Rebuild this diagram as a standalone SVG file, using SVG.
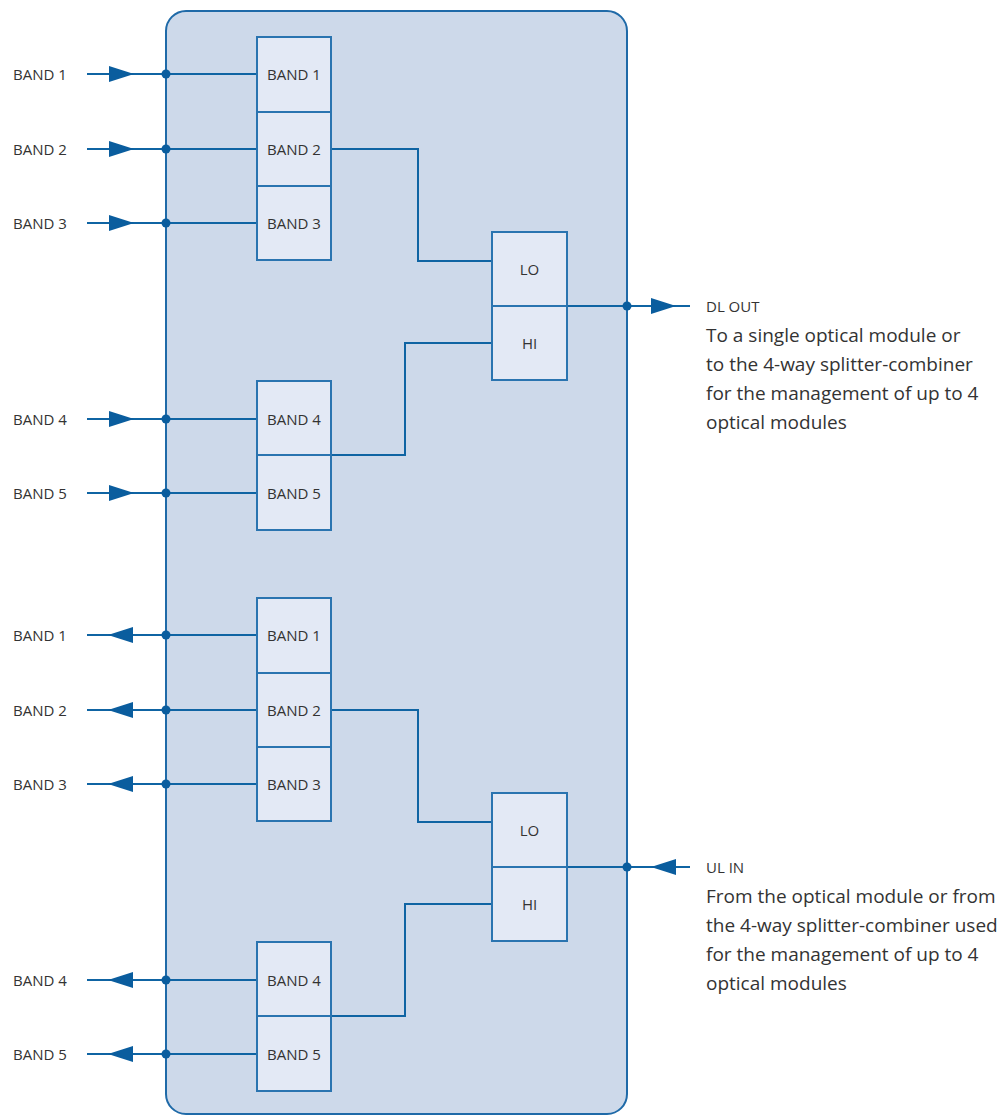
<svg xmlns="http://www.w3.org/2000/svg" xmlns:xlink="http://www.w3.org/1999/xlink" width="1005" height="1115" viewBox="0 0 1005 1115">
<style>
.wire{fill:none;stroke:#0f64a3;stroke-width:2}
.box{fill:#e3e9f5;stroke:#2a74b0;stroke-width:2}
.dot{fill:#0a5d9e}
.arr{fill:#0a5d9e}
.lbl{font-family:"Open Sans","Noto Sans",sans-serif;font-size:15px;fill:#333}
.in{font-family:"Open Sans","Noto Sans",sans-serif;font-size:15px;fill:#333;text-anchor:middle}
.desc{font-family:"Open Sans","Noto Sans",sans-serif;font-size:19px;fill:#333}
</style>
<defs>
<polygon id="ar" points="0,-8 25,0 0,8" class="arr"/>
<polygon id="al" points="25,-8 0,0 25,8" class="arr"/>
</defs>
<rect id="panel" x="166" y="11" width="461" height="1103" rx="20" ry="20" fill="#cdd9ea" stroke="#1f6aa8" stroke-width="2"/>
<g id="connectors">
<path class="wire" d="M87 74H257M87 149H257M87 223H257M87 419H257M87 493H257"/>
<path class="wire" d="M331 149H418V261H492M331 455H405V343H492M567 306H690"/>
<use xlink:href="#ar" x="109" y="74"/><use xlink:href="#ar" x="109" y="149"/><use xlink:href="#ar" x="109" y="223"/><use xlink:href="#ar" x="109" y="419"/><use xlink:href="#ar" x="109" y="493"/>
<use xlink:href="#ar" x="651" y="306"/>
<circle class="dot" cx="166" cy="74" r="4.5"/><circle class="dot" cx="166" cy="149" r="4.5"/><circle class="dot" cx="166" cy="223" r="4.5"/><circle class="dot" cx="166" cy="419" r="4.5"/><circle class="dot" cx="166" cy="493" r="4.5"/>
<circle class="dot" cx="627" cy="306" r="4.5"/>
<path class="wire" d="M87 635H257M87 710H257M87 784H257M87 980H257M87 1054H257"/>
<path class="wire" d="M331 710H418V822H492M331 1016H405V904H492M567 867H690"/>
<use xlink:href="#al" x="108" y="635"/><use xlink:href="#al" x="108" y="710"/><use xlink:href="#al" x="108" y="784"/><use xlink:href="#al" x="108" y="980"/><use xlink:href="#al" x="108" y="1054"/>
<use xlink:href="#al" x="651" y="867"/>
<circle class="dot" cx="166" cy="635" r="4.5"/><circle class="dot" cx="166" cy="710" r="4.5"/><circle class="dot" cx="166" cy="784" r="4.5"/><circle class="dot" cx="166" cy="980" r="4.5"/><circle class="dot" cx="166" cy="1054" r="4.5"/>
<circle class="dot" cx="627" cy="867" r="4.5"/>
</g>
<g id="dl-filters">
<g id="dl-band1"><rect class="box" x="257" y="37" width="74" height="75"/><text class="in" x="294" y="79.5">BAND 1</text></g>
<g id="dl-band2"><rect class="box" x="257" y="112" width="74" height="74"/><text class="in" x="294" y="154.5">BAND 2</text></g>
<g id="dl-band3"><rect class="box" x="257" y="186" width="74" height="74"/><text class="in" x="294" y="228.5">BAND 3</text></g>
<g id="dl-band4"><rect class="box" x="257" y="381" width="74" height="74"/><text class="in" x="294" y="424.5">BAND 4</text></g>
<g id="dl-band5"><rect class="box" x="257" y="455" width="74" height="75"/><text class="in" x="294" y="498.5">BAND 5</text></g>
<g id="dl-lo"><rect class="box" x="492" y="232" width="75" height="74"/><text class="in" x="529.5" y="274.5">LO</text></g>
<g id="dl-hi"><rect class="box" x="492" y="306" width="75" height="74"/><text class="in" x="529.5" y="348.5">HI</text></g>
</g>
<g id="ul-filters">
<g id="ul-band1"><rect class="box" x="257" y="598" width="74" height="75"/><text class="in" x="294" y="640.5">BAND 1</text></g>
<g id="ul-band2"><rect class="box" x="257" y="673" width="74" height="74"/><text class="in" x="294" y="715.5">BAND 2</text></g>
<g id="ul-band3"><rect class="box" x="257" y="747" width="74" height="74"/><text class="in" x="294" y="789.5">BAND 3</text></g>
<g id="ul-band4"><rect class="box" x="257" y="942" width="74" height="74"/><text class="in" x="294" y="985.5">BAND 4</text></g>
<g id="ul-band5"><rect class="box" x="257" y="1016" width="74" height="75"/><text class="in" x="294" y="1059.5">BAND 5</text></g>
<g id="ul-lo"><rect class="box" x="492" y="793" width="75" height="74"/><text class="in" x="529.5" y="835.5">LO</text></g>
<g id="ul-hi"><rect class="box" x="492" y="867" width="75" height="74"/><text class="in" x="529.5" y="909.5">HI</text></g>
</g>
<g id="port-labels">
<text class="lbl" x="13" y="79.5">BAND 1</text>
<text class="lbl" x="13" y="154.5">BAND 2</text>
<text class="lbl" x="13" y="228.5">BAND 3</text>
<text class="lbl" x="13" y="424.5">BAND 4</text>
<text class="lbl" x="13" y="498.5">BAND 5</text>
<text class="lbl" x="13" y="640.5">BAND 1</text>
<text class="lbl" x="13" y="715.5">BAND 2</text>
<text class="lbl" x="13" y="789.5">BAND 3</text>
<text class="lbl" x="13" y="985.5">BAND 4</text>
<text class="lbl" x="13" y="1059.5">BAND 5</text>
</g>
<g id="dl-out">
<text class="lbl" x="706" y="311.5">DL OUT</text>
<text class="desc" x="706" y="342">To a single optical module or</text>
<text class="desc" x="706" y="371">to the 4-way splitter-combiner</text>
<text class="desc" x="706" y="400">for the management of up to 4</text>
<text class="desc" x="706" y="429">optical modules</text>
</g>
<g id="ul-in">
<text class="lbl" x="706" y="872.5">UL IN</text>
<text class="desc" x="706" y="903">From the optical module or from</text>
<text class="desc" x="706" y="932">the 4-way splitter-combiner used</text>
<text class="desc" x="706" y="961">for the management of up to 4</text>
<text class="desc" x="706" y="990">optical modules</text>
</g>
</svg>
